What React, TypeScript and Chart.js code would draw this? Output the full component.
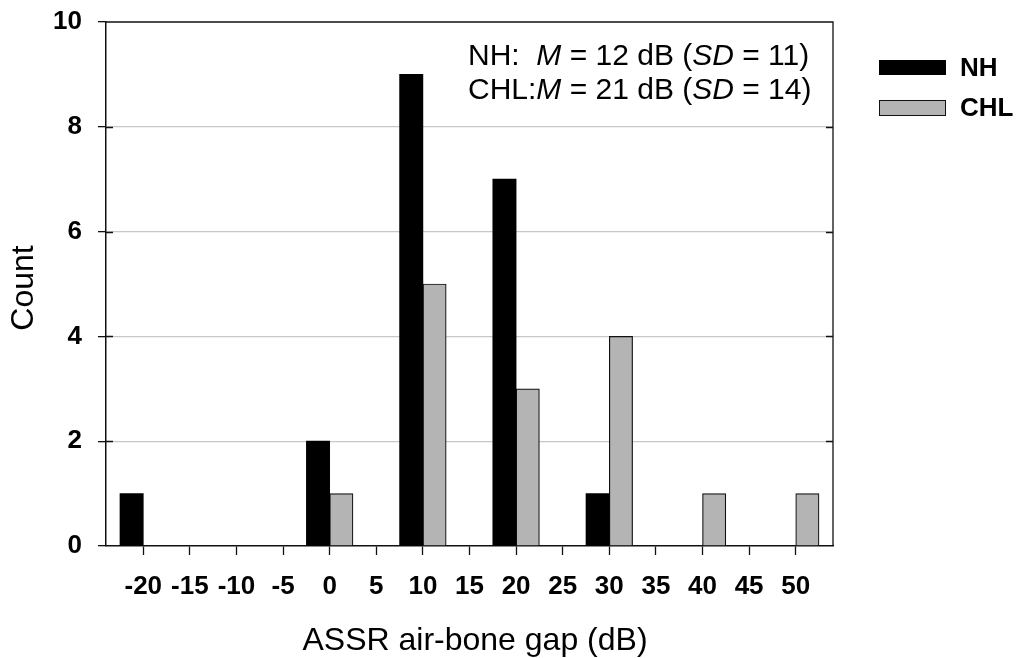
import React, { useEffect, useRef } from "react";
import { Chart, registerables } from "chart.js";

Chart.register(...registerables);

const categories = [-20, -15, -10, -5, 0, 5, 10, 15, 20, 25, 30, 35, 40, 45, 50];
const nhCounts = [1, 0, 0, 0, 2, 0, 9, 0, 7, 0, 1, 0, 0, 0, 0];
const chlCounts = [0, 0, 0, 0, 1, 0, 5, 0, 3, 0, 4, 0, 1, 0, 1];
const yTicks = [0, 2, 4, 6, 8, 10];
const seriesNames = ["NH", "CHL"];
const statLines = [
  ["NH:  ", "M", " = 12 dB (", "SD", " = 11)"],
  ["CHL:", "M", " = 21 dB (", "SD", " = 14)"],
];
const xTitle = "ASSR air-bone gap (dB)";
const yTitle = "Count";

const FONT = "'Liberation Sans', Arial, sans-serif";
const GRAY = "#b4b4b4";
const DARK = "#111111";

const decorPlugin = {
  id: "decor",
  afterDraw(chart: any) {
    const ctx = chart.ctx as CanvasRenderingContext2D;
    const a = chart.chartArea;
    const yScale = chart.scales.y;
    ctx.save();
    ctx.strokeStyle = DARK;
    ctx.lineWidth = 1.3;
    ctx.beginPath();
    ctx.moveTo(a.left, a.top);
    ctx.lineTo(a.right, a.top);
    ctx.lineTo(a.right, a.bottom);
    ctx.stroke();
    yTicks.forEach((v) => {
      if (v === 0 || v === 10) return;
      const py = Math.round(yScale.getPixelForValue(v)) + 0.5;
      ctx.beginPath();
      ctx.moveTo(a.left, py);
      ctx.lineTo(a.left + 7, py);
      ctx.moveTo(a.right - 7, py);
      ctx.lineTo(a.right, py);
      ctx.stroke();
    });
    ctx.fillStyle = "#000";
    ctx.textBaseline = "alphabetic";
    ctx.textAlign = "left";
    const baselines = [65, 98.5];
    statLines.forEach((parts, li) => {
      let x = 468;
      parts.forEach((p, i) => {
        ctx.font = (i === 1 || i === 3 ? "italic " : "") + "30px " + FONT;
        ctx.fillText(p, x, baselines[li]);
        x += ctx.measureText(p).width;
      });
    });
    ctx.fillStyle = "#000";
    ctx.fillRect(879, 60, 67, 15);
    ctx.fillStyle = GRAY;
    ctx.fillRect(879.5, 100.5, 66, 15);
    ctx.strokeStyle = DARK;
    ctx.lineWidth = 1;
    ctx.strokeRect(879.5, 100.5, 66, 15);
    ctx.fillStyle = "#000";
    ctx.font = "bold 26px " + FONT;
    ctx.fillText(seriesNames[0], 960, 75.5);
    ctx.fillText(seriesNames[1], 960, 116);
    ctx.font = "32px " + FONT;
    ctx.textAlign = "center";
    ctx.fillText(xTitle, 475, 650);
    ctx.save();
    ctx.translate(33, 288);
    ctx.rotate(-Math.PI / 2);
    ctx.fillText(yTitle, 0, 0);
    ctx.restore();
    ctx.restore();
  },
};

export default function App() {
  const ref = useRef<HTMLCanvasElement>(null);
  useEffect(() => {
    if (!ref.current) return;
    const toPoints = (arr: number[]) =>
      categories.map((c, i) => ({ x: c, y: arr[i] === 0 ? null : arr[i] }));
    const chart = new Chart(ref.current, {
      type: "bar",
      data: {
        datasets: [
          {
            label: seriesNames[0],
            data: toPoints(nhCounts) as any,
            backgroundColor: "#000000",
            borderColor: "#000000",
            borderWidth: 0,
          },
          {
            label: seriesNames[1],
            data: toPoints(chlCounts) as any,
            backgroundColor: GRAY,
            borderColor: DARK,
            borderWidth: 1.2,
            borderSkipped: "bottom",
          },
        ],
      },
      options: {
        animation: false,
        responsive: false,
        datasets: { bar: { categoryPercentage: 1, barPercentage: 1 } },
        layout: { padding: { left: 0, top: 22, right: 186, bottom: 0 } },
        plugins: { legend: { display: false }, tooltip: { enabled: false }, title: { display: false } },
        scales: {
          x: {
            type: "linear",
            offset: false,
            min: -24,
            max: 54,
            afterFit: (s: any) => {
              s.height = 112;
              s.paddingLeft = 0;
              s.paddingRight = 0;
            },
            afterBuildTicks: (s: any) => {
              s.ticks = categories.map((v) => ({ value: v }));
            },
            ticks: {
              stepSize: 5,
              includeBounds: false,
              autoSkip: false,
              maxRotation: 0,
              padding: 16,
              color: "#000",
              font: { family: FONT, size: 26, weight: "bold" },
            },
            grid: { drawOnChartArea: false, offset: false, tickLength: 9, tickColor: DARK, tickWidth: 1.3 },
            border: { color: DARK, width: 1.5 },
          },
          y: {
            min: 0,
            max: 10,
            afterFit: (s: any) => {
              s.width = 106;
              s.paddingTop = 0;
              s.paddingBottom = 0;
            },
            afterBuildTicks: (s: any) => {
              s.ticks = yTicks.map((v) => ({ value: v }));
            },
            ticks: {
              stepSize: 2,
              padding: 16,
              color: "#000",
              font: { family: FONT, size: 26, weight: "bold" },
            },
            grid: {
              color: (c: any) => (c.tick && (c.tick.value === 0 || c.tick.value === 10) ? "rgba(0,0,0,0)" : "#c8c8c8"),
              lineWidth: 1.3,
              tickLength: 8,
              tickColor: DARK,
              tickWidth: 1.3,
            },
            border: { color: DARK, width: 1.5 },
          },
        },
      } as any,
      plugins: [decorPlugin],
    });
    return () => chart.destroy();
  }, []);
  return (
    <div style={{ position: "fixed", left: 0, top: 0, width: 1019, height: 658, background: "#fff" }}>
      <canvas ref={ref} width={1019} height={658} style={{ display: "block" }} />
    </div>
  );
}
